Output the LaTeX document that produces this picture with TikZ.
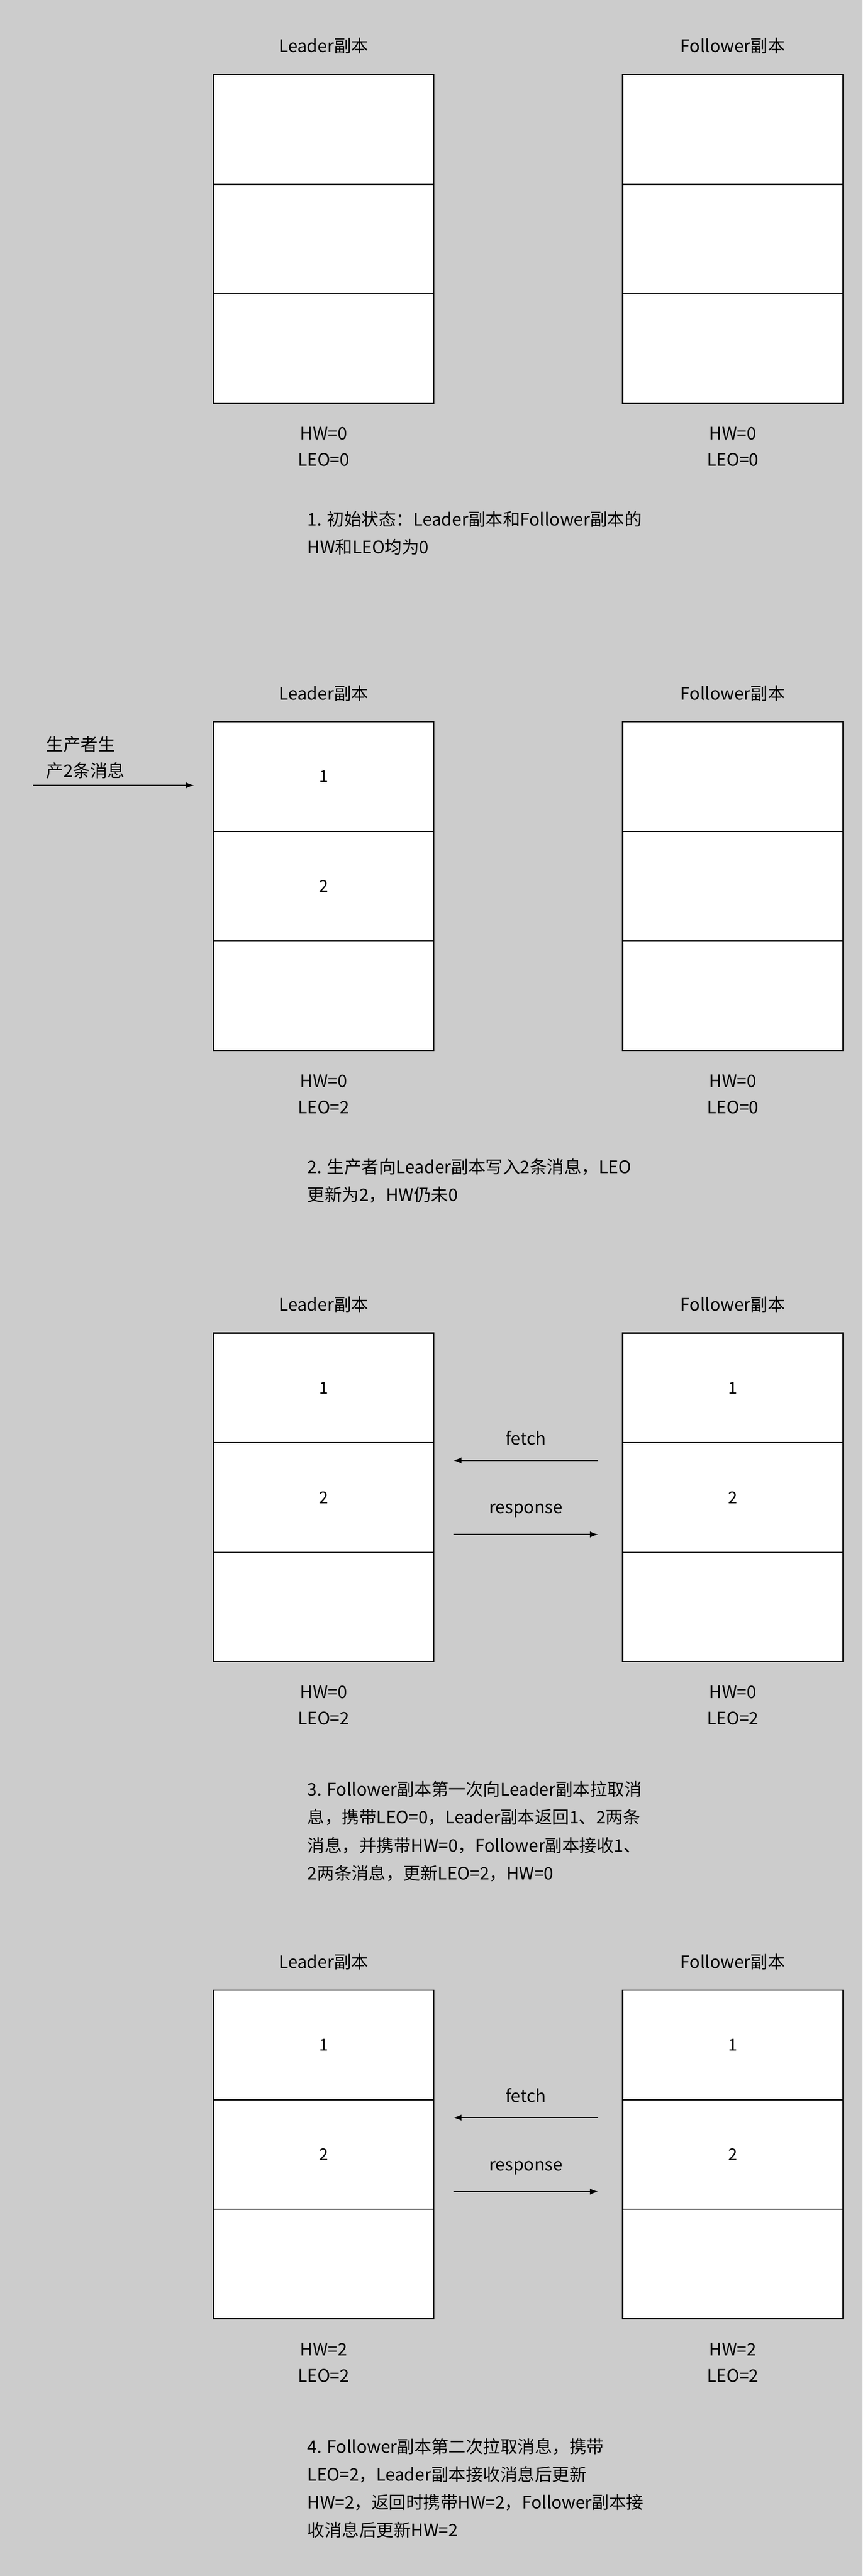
\documentclass[tikz,border=0pt]{standalone}
\usepackage{fontspec}
\setmainfont{Noto Sans CJK SC}
\begin{document}
\begin{tikzpicture}[x=1pt,y=-1pt,
  cell/.style={draw=black,fill=white,minimum width=134pt,minimum height=66.7pt,inner sep=0pt,line width=0.8pt},
  lbl/.style={font=\fontsize{10.5}{13}\selectfont,inner sep=0pt},
  captext/.style={font=\fontsize{10.5}{17}\selectfont,align=left,anchor=north west,inner sep=0pt},
  arr/.style={-latex,line width=0.7pt}]
\fill[black!20] (0,0) rectangle (525,1568);
\useasboundingbox (0,0) rectangle (525,1568);
\foreach \s/\top/\la/\lb/\lc/\fa/\fb/\fc/\hl/\ll/\hf/\lf in {
  1/45///////0/0/0/0,
  2/439/1/2/////0/2/0/0,
  3/811/1/2//1/2//0/2/0/2,
  4/1211/1/2//1/2//2/2/2/2}{
  \node[lbl] (lt\s) at (197,\top-17) {Leader副本};
  \node[lbl] (ft\s) at (446,\top-17) {Follower副本};
  \node[cell,anchor=north] (la\s) at (197,\top) {\la};
  \node[cell,anchor=north] (lb\s) at (197,\top+66.7) {\lb};
  \node[cell,anchor=north] (lc\s) at (197,\top+133.3) {\lc};
  \node[cell,anchor=north] (fa\s) at (446,\top) {\fa};
  \node[cell,anchor=north] (fb\s) at (446,\top+66.7) {\fb};
  \node[cell,anchor=north] (fc\s) at (446,\top+133.3) {\fc};
  \node[lbl,align=center] (lh\s) at (197,\top+227) {HW=\hl\\[3pt]LEO=\ll};
  \node[lbl,align=center] (fh\s) at (446,\top+227) {HW=\hf\\[3pt]LEO=\lf};
}
\node[captext] (c1) at (187,311) {1. 初始状态：Leader副本和Follower副本的\\HW和LEO均为0};
\node[captext] (c2) at (187,705) {2. 生产者向Leader副本写入2条消息，LEO\\更新为2，HW仍未0};
\node[captext] (c3) at (187,1084) {3. Follower副本第一次向Leader副本拉取消\\息，携带LEO=0，Leader副本返回1、2两条\\消息，并携带HW=0，Follower副本接收1、\\2两条消息，更新LEO=2，HW=0};
\node[captext] (c4) at (187,1484) {4. Follower副本第二次拉取消息，携带\\LEO=2，Leader副本接收消息后更新\\HW=2，返回时携带HW=2，Follower副本接\\收消息后更新HW=2};
\node[lbl,align=left] (prod) at (52,461) {生产者生\\[3pt]产2条消息};
\coordinate (ps) at (20,478);
\coordinate (pe) at (118,478);
\draw[arr] (ps) -- (pe);
\foreach \s/\y in {3/889,4/1289}{
  \coordinate (fs\s) at (364,\y); \coordinate (fe\s) at (276,\y);
  \coordinate (rs\s) at (276,\y+45); \coordinate (re\s) at (364,\y+45);
  \draw[arr] (fs\s) -- node[lbl,above=9pt] (fl\s) {fetch} (fe\s);
  \draw[arr] (rs\s) -- node[lbl,above=10pt] (rl\s) {response} (re\s);
}
\end{tikzpicture}
\end{document}
